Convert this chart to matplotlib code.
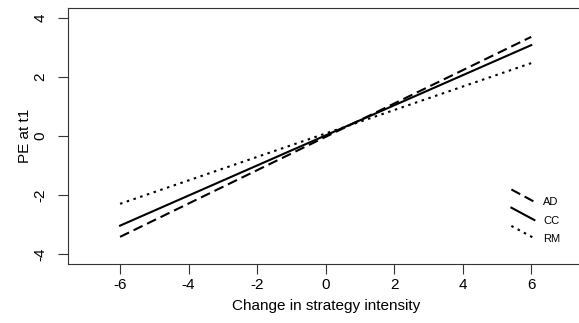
import matplotlib
matplotlib.use("Agg")
import matplotlib.pyplot as plt
import numpy as np
from matplotlib.legend_handler import HandlerLine2D
from matplotlib.lines import Line2D

plt.rcParams['font.family'] = ['Liberation Sans', 'DejaVu Sans']

# data: endpoints of the fitted lines
x_vals = [-6, 6]
ad_vals = [-3.42, 3.36]
cc_vals = [-3.04, 3.08]
rm_vals = [-2.30, 2.47]
series_names = ['AD', 'CC', 'RM']
xticks = [-6, -4, -2, 0, 2, 4, 6]
yticks = [-4, -2, 0, 2, 4]


class SlantHandler(HandlerLine2D):
    def create_artists(self, legend, orig_handle, xdescent, ydescent,
                       width, height, fontsize, trans):
        yc = height / 2.0 - ydescent
        line = Line2D([-xdescent, -xdescent + width],
                      [yc + 8.6, yc - 0.3])
        self.update_prop(line, orig_handle, legend)
        line.set_transform(trans)
        return [line]


fig = plt.figure(figsize=(5.79, 3.23), dpi=100)
ax = fig.add_axes([0.1174, 0.1827, 0.890, 0.7926])

l1, = ax.plot(x_vals, ad_vals, color='black', lw=1.5, ls=(0, (4.8, 2.4)), label=series_names[0])
l2, = ax.plot(x_vals, cc_vals, color='black', lw=1.5, ls='-', label=series_names[1])
l3, = ax.plot(x_vals, rm_vals, color='black', lw=1.5, ls=(0, (1.2, 2.2)), label=series_names[2])

ax.set_xlim(-7.52, 7.52)
ax.set_ylim(-4.34, 4.34)
ax.set_xticks(xticks)
ax.set_yticks(yticks)
ax.set_xticklabels([str(v) for v in xticks], fontsize=11)
ax.set_yticklabels([str(v) for v in yticks], fontsize=11, rotation=90, va='center')
ax.tick_params(axis='both', direction='out', length=7, width=0.8, color='#333333')
ax.tick_params(axis='x', pad=3)
ax.tick_params(axis='y', pad=8)
for s in ax.spines.values():
    s.set_linewidth(0.8)
    s.set_color('#333333')

ax.set_xlabel('Change in strategy intensity', fontsize=11, labelpad=5)
ax.set_ylabel('PE at t1', fontsize=11, labelpad=1)

leg = ax.legend(handles=[l1, l2, l3], loc='lower right',
                bbox_to_anchor=(0.975, 0.04), frameon=False, fontsize=8,
                handlelength=2.07, handletextpad=0.8, labelspacing=0.74,
                handler_map={Line2D: SlantHandler()})

fig.savefig('out.png', dpi=100)
